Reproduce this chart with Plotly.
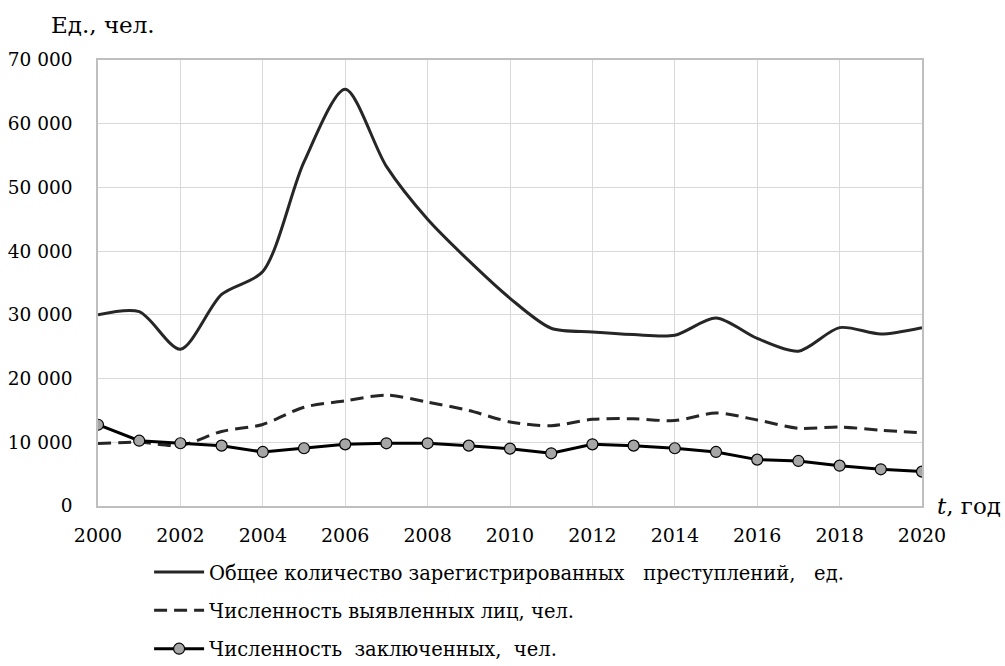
import plotly.graph_objects as go

years = list(range(2000, 2021))

# Общее количество зарегистрированных преступлений, ед.
crimes_total = [30000, 30500, 24600, 33200, 36800, 54000, 65400, 53300, 45000, 38500,
                32600, 27900, 27300, 26900, 26800, 29500, 26300, 24300, 28000, 27000, 28000]
# Численность выявленных лиц, чел.
persons_identified = [9800, 10000, 9500, 11700, 12800, 15500, 16500, 17400, 16300, 15000,
                      13200, 12600, 13600, 13700, 13400, 14600, 13500, 12200, 12400, 11900, 11500]
# Численность заключенных, чел.
prisoners = [12750, 10250, 9850, 9470, 8480, 9060, 9680, 9840, 9840, 9470,
             9000, 8270, 9680, 9470, 9060, 8480, 7280, 7070, 6330, 5760, 5400]

names = [
    "Общее количество зарегистрированных   преступлений,   ед.",
    "Численность выявленных лиц, чел.",
    "Численность  заключенных,  чел.",
]

y_ticks = list(range(0, 70001, 10000))
y_labels = ["0" if v == 0 else f"{v // 1000} 000" for v in y_ticks]
x_ticks = list(range(2000, 2021, 2))

FONT = "DejaVu Serif"
INK = "#262626"

fig = go.Figure()
fig.add_trace(go.Scatter(
    x=years, y=crimes_total, name=names[0], mode="lines",
    line=dict(color=INK, width=3, shape="spline", smoothing=0.8),
    legendgroup="a",
))
fig.add_trace(go.Scatter(
    x=years, y=persons_identified, name=names[1], mode="lines",
    line=dict(color=INK, width=3, dash="13px,7px", shape="spline", smoothing=0.8),
    legendgroup="b",
))
fig.add_trace(go.Scatter(
    x=years, y=prisoners, name=names[2], mode="lines+markers",
    line=dict(color="#000000", width=3),
    marker=dict(size=11, color="#a6a6a6", line=dict(color="#000000", width=1.2)),
    legendgroup="c",
))

fig.update_layout(
    width=1005, height=666,
    margin=dict(l=98, r=83, t=60, b=160, autoexpand=False),
    paper_bgcolor="white", plot_bgcolor="white",
    font=dict(family=FONT, size=19, color="#000000"),
    showlegend=True,
    legend=dict(
        x=0.062, xanchor="left", y=-0.105, yanchor="top",
        font=dict(family=FONT, size=19.5, color="#000000"),
        traceorder="grouped", tracegroupgap=10,
        bgcolor="rgba(0,0,0,0)", itemwidth=50,
    ),
    xaxis=dict(
        range=[2000, 2020], tickvals=x_ticks, ticktext=[str(v) for v in x_ticks],
        showgrid=True, gridcolor="#d9d9d9", gridwidth=1,
        showline=True, linecolor="#bfbfbf", linewidth=1.5, mirror=True,
        zeroline=False, ticks="", ticklabelstandoff=11,
        tickfont=dict(family=FONT, size=19),
    ),
    yaxis=dict(
        range=[0, 70000], tickvals=y_ticks, ticktext=y_labels,
        showgrid=True, gridcolor="#d9d9d9", gridwidth=1,
        showline=True, linecolor="#bfbfbf", linewidth=1.5, mirror=True,
        zeroline=False, ticks="", ticklabelstandoff=20,
        tickfont=dict(family=FONT, size=18.5),
    ),
    annotations=[
        dict(text="Ед., чел.", xref="paper", yref="paper", x=0.006, y=1.078,
             xanchor="center", yanchor="middle", showarrow=False,
             font=dict(family=FONT, size=23)),
        dict(text="<i>t</i>, год", xref="paper", yref="paper", x=1.0158, y=0.0,
             xanchor="left", yanchor="middle", showarrow=False,
             font=dict(family=FONT, size=23)),
    ],
)

fig.write_html("out.html")
